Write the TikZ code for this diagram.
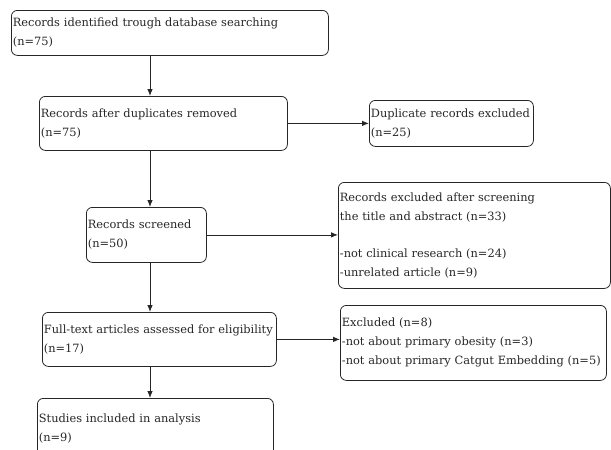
\documentclass[tikz,border=0pt]{standalone}
\usepackage{fontspec}
\setmainfont{DejaVu Serif}
\usetikzlibrary{positioning, arrows.meta, calc}
\tikzset{
    x=1pt, y=-1pt, % one unit is one pixel of the sketch
    box/.style={ % Sets the properties for each stage
        draw=black!85,
        text=black!85,
        line width=0.8pt,
        rounded corners=6pt,
        anchor=north west,
        align=left,
        inner xsep=1.5pt,
        inner ysep=0pt,
        font=\fontsize{11.4}{19}\selectfont
    },
    flow/.style={ % Sets the properties for each arrow
        draw=black!85,
        ->,>={Latex[length=7pt,width=5.5pt]},
        line width=0.8pt
    }
}

\begin{document}
\begin{tikzpicture}
    \useasboundingbox (0,0) rectangle (611,450);
    \coordinate (spine) at (150,0);
    \node[box, text width=314, minimum height=45]  (ident)    at (11,10)
        {Records identified trough database searching\\(n=75)};
    \node[box, text width=245, minimum height=54]  (dedup)    at (39,96)
        {Records after duplicates removed\\(n=75)};
    \node[box, text width=161, minimum height=46]  (dupl)     at (369,100)
        {Duplicate records excluded\\(n=25)};
    \node[box, text width=117, minimum height=55]  (screen)   at (86,207)
        {Records screened\\(n=50)};
    \node[box, text width=269, minimum height=106] (screenex) at (338,182)
        {Records excluded after screening\\the title and abstract (n=33)\\[18pt]-not clinical research (n=24)\\-unrelated article (n=9)};
    \node[box, text width=231, minimum height=54]  (full)     at (42,312)
        {Full-text articles assessed for eligibility\\(n=17)};
    \node[box, text width=263, minimum height=75]  (fullex)   at (340,305)
        {Excluded (n=8)\\-not about primary obesity (n=3)\\-not about primary Catgut Embedding (n=5)};
    \node[box, text width=233, minimum height=60]  (incl)     at (37,398)
        {Studies included in analysis\\(n=9)};

    \draw[flow] (ident.south -| spine)  -- (dedup.north -| spine);
    \draw[flow] (dedup.south -| spine)  -- (screen.north -| spine);
    \draw[flow] (screen.south -| spine) -- (full.north -| spine);
    \draw[flow] (full.south -| spine)   -- (incl.north -| spine);
    \draw[flow] (dedup.east)  -- (dupl.west |- dedup.east);
    \draw[flow] (screen.east) -- (screenex.west |- screen.east);
    \draw[flow] (full.east)   -- (fullex.west |- full.east);
\end{tikzpicture}
\end{document}
